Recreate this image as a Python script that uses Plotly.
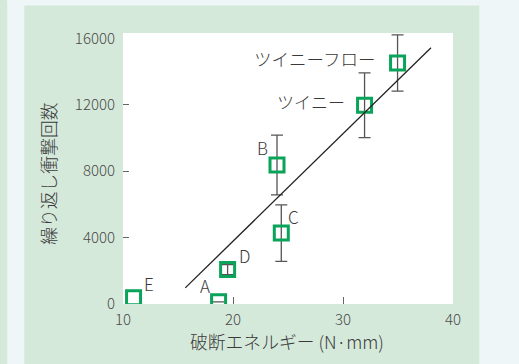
import plotly.graph_objects as go

# ---- data ----
names = ["E", "A", "D", "C", "B", "ツイニー", "ツイニーフロー"]
energy = [10.96, 18.69, 19.51, 24.39, 24.0, 31.96, 34.96]
impacts = [370, 130, 2070, 4270, 8370, 11970, 14510]
errors = [None, 0, 300, 1700, 1800, 1950, 1690]
fit_x = [15.66, 38.0]
fit_y = [972, 15430]
x_ticks = [10, 20, 30, 40]
x_ticktext = ["10", "20", "30", "40"]
y_ticks = [0, 4000, 8000, 12000, 16000]
y_ticktext = ["0", "4000", "8000", "12000", "16000"]
x_minor = [20, 30]
y_minor = [4000, 8000, 12000]

# ---- style ----
GREEN_PANEL = "#d5e9da"
LIGHT = "#eef6f8"
MARK = "#0aa35a"
FONT = "Noto Sans CJK JP"
TXT = "#3a3a3a"
label_shift = {
    "E": (15, 14, "center", 17),
    "A": (-14, 16, "center", 17),
    "D": (17, 14, "center", 17),
    "C": (12, 17, "center", 17),
    "B": (-15, 18, "center", 17),
    "ツイニー": (-18, 4, "right", 17),
    "ツイニーフロー": (-21, 5, "right", 17.5),
}

XR = [10, 40]
YR = [0, 16318]

marker_style = dict(symbol="square-open", size=14, color=MARK, line=dict(width=3, color=MARK))

with_err = [i for i, e in enumerate(errors) if e is not None]
no_err = [i for i, e in enumerate(errors) if e is None]

fig = go.Figure()
fig.add_trace(go.Scatter(
    x=[energy[i] for i in with_err], y=[impacts[i] for i in with_err], mode="markers",
    marker=marker_style,
    error_y=dict(type="data", array=[errors[i] for i in with_err], visible=True,
                 color="#555555", thickness=1.3, width=6),
    showlegend=False, hoverinfo="skip",
))
fig.add_trace(go.Scatter(
    x=[energy[i] for i in no_err], y=[impacts[i] for i in no_err], mode="markers",
    marker=marker_style, showlegend=False, hoverinfo="skip",
))
fig.add_trace(go.Scatter(
    x=fit_x, y=fit_y, mode="lines", line=dict(color="#222222", width=1.3),
    xaxis="x2", yaxis="y2", showlegend=False, hoverinfo="skip",
))

ann = []
for n, xv, yv in zip(names, energy, impacts):
    dx, dy, anc, fs = label_shift[n]
    ann.append(dict(x=xv, y=yv, xref="x", yref="y", text=n, showarrow=False,
                    xshift=dx, yshift=dy, xanchor=anc, yanchor="middle",
                    font=dict(family=FONT, size=fs, color=TXT, weight=300)))
# axis titles
ann.append(dict(x=(287 - 122.7) / 330, y=(304.5 - 342) / 272, xref="paper", yref="paper",
                text="破断エネルギー (N·mm)", showarrow=False, xanchor="center", yanchor="middle",
                font=dict(family=FONT, size=17.8, color=TXT, weight=300)))
ann.append(dict(x=(47.5 - 122.7) / 330, y=(304.5 - 174) / 272, xref="paper", yref="paper",
                text="繰り返し衝撃回数", showarrow=False, textangle=-90, xanchor="center", yanchor="middle",
                font=dict(family=FONT, size=17.8, color=TXT, weight=300)))

def px(xp):
    return (xp - 122.7) / 330

def py(yp):
    return (304.5 - yp) / 272

shapes = [
    dict(type="rect", xref="paper", yref="paper", x0=px(479), x1=px(530), y0=py(380), y1=py(-10),
         fillcolor=LIGHT, line=dict(width=0), layer="below"),
    dict(type="rect", xref="paper", yref="paper", x0=px(7), x1=px(24), y0=py(380), y1=py(-10),
         fillcolor=LIGHT, line=dict(width=0), layer="below"),
    dict(type="rect", xref="paper", yref="paper", x0=px(7), x1=px(530), y0=py(5), y1=py(-10),
         fillcolor=LIGHT, line=dict(width=0), layer="below"),
]

tickfont = dict(family=FONT, size=15, color="#4a4a4a", weight=300)
fig.update_layout(
    width=519, height=364,
    margin=dict(l=122.7, r=66.3, t=32.5, b=59.5, pad=0),
    paper_bgcolor=GREEN_PANEL, plot_bgcolor="white",
    font=dict(family=FONT, color="#444444"),
    xaxis=dict(range=XR, tickvals=x_ticks, ticktext=x_ticktext, ticks="", showgrid=False,
               zeroline=False, showline=False, tickfont=tickfont, ticklabelstandoff=5),
    yaxis=dict(range=YR, tickvals=y_ticks, ticktext=y_ticktext, ticks="", showgrid=False,
               zeroline=False, showline=False, tickfont=tickfont, ticklabelstandoff=7),
    xaxis2=dict(range=XR, overlaying="x", anchor="y2", tickvals=x_minor, ticks="inside", ticklen=7,
                tickcolor="#666666", tickwidth=1, showticklabels=False, showgrid=False, zeroline=False,
                showline=False),
    yaxis2=dict(range=YR, overlaying="y", anchor="x2", side="left", tickvals=y_minor, ticks="inside",
                ticklen=6, tickcolor="#666666", tickwidth=1, showticklabels=False, showgrid=False,
                zeroline=False, showline=False),
    annotations=ann, shapes=shapes,
)

fig.write_html("out.html")
